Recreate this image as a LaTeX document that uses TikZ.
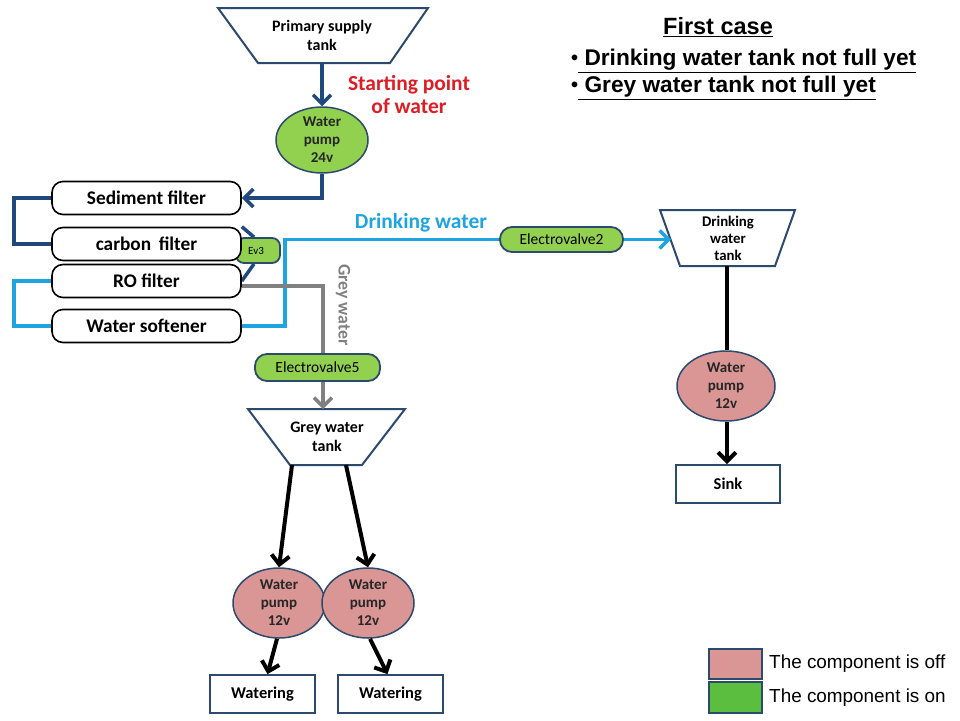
\documentclass[tikz,border=0pt]{standalone}
\usepackage{fontspec}
\setmainfont{Carlito}
\newfontfamily\arialf{Liberation Sans}
\usetikzlibrary{arrows.meta,shapes.geometric}
\pgfdeclarelayer{bg}
\pgfsetlayers{bg,main}
\definecolor{dkblue}{RGB}{31,73,125}
\definecolor{ltblue}{RGB}{30,165,225}
\definecolor{greyc}{RGB}{128,128,128}
\definecolor{outl}{RGB}{44,74,110}
\definecolor{grn}{RGB}{146,208,80}
\definecolor{pinkc}{RGB}{217,150,148}
\definecolor{leggrn}{RGB}{92,190,62}
\definecolor{redc}{RGB}{222,30,36}
\tikzset{
  tanktext/.style={font=\bfseries\fontsize{16}{19}\selectfont, align=center, inner sep=0pt},
  pump/.style={ellipse, draw=outl, line width=1.5pt, inner sep=-7pt, align=center,
    font=\bfseries\fontsize{15}{18}\selectfont, text=black!85},
  filt/.style={rectangle, rounded corners=11pt, draw=black, line width=1.6pt, fill=white,
    minimum width=189pt, minimum height=33pt, font=\bfseries\fontsize{19.3}{22}\selectfont},
  valve/.style={rectangle, rounded corners=12pt, draw=outl, line width=1.8pt, fill=grn,
    minimum height=25pt, inner sep=0pt, font=\fontsize{15.5}{17}\selectfont},
  endbox/.style={rectangle, draw=outl, line width=1.8pt, fill=white, minimum width=105pt,
    minimum height=38pt, font=\bfseries\fontsize{16.5}{19}\selectfont},
  tankshape/.style={draw=outl, line width=2pt, fill=white, line join=miter},
  dkpipe/.style={draw=dkblue, line width=3.5pt},
  ltpipe/.style={draw=ltblue, line width=3.5pt},
  grpipe/.style={draw=greyc, line width=3.5pt},
  blkpipe/.style={draw=black, line width=4pt},
  flowtip/.style={-{Straight Barb[length=9pt,width=18pt]}},
  legbox/.style={rectangle, draw=outl, line width=2pt, minimum width=53pt, minimum height=30pt},
  legtext/.style={anchor=west, font=\arialf\fontsize{18.9}{21}\selectfont, inner sep=0pt},
  headline/.style={font=\arialf\bfseries\fontsize{22.7}{26}\selectfont, anchor=west, inner sep=0pt},
}
\newcommand{\bulletdot}{{\fontsize{20}{20}\selectfont\raisebox{1pt}{•}}}
\begin{document}
\begin{tikzpicture}[x=1pt,y=-1pt]
\useasboundingbox (0,0) rectangle (960,720);
\begin{pgfonlayer}{bg}
\fill[white] (0,0) rectangle (960,720);
\end{pgfonlayer}

% primary supply tank
\draw[tankshape] (218,8) -- (428,8) -- (390,63) -- (258,63) -- cycle;
\node[tanktext] (pst) at (322,35) {Primary supply\\tank};
\coordinate (pstb) at (322,63);

\node[pump, fill=grn, minimum width=92pt, minimum height=66pt] (pump24) at (322,140) {Water\\pump\\24v};
\node[font=\bfseries\fontsize{21.5}{23}\selectfont, text=redc, align=center] (start) at (409,95) {Starting point\\of water};

% filters
\node[filt] (sed) at (146.5,198) {Sediment filter};
\node[filt] (carb) at (146.5,244) {carbon\, filter};
\node[filt] (ro) at (146.5,281) {RO filter};
\node[filt] (soft) at (146.5,326) {Water softener};

% Ev3 (behind filters)
\begin{pgfonlayer}{bg}
\node[rectangle, rounded corners=8pt, draw=outl, line width=1.8pt, fill=grn, minimum width=44pt,
  minimum height=25pt, font=\fontsize{11}{12}\selectfont] (ev3) at (258,250.5) {\hspace*{-4pt}Ev3};
\draw[dkpipe] (carb.north east) -- ([xshift=-4pt]ev3.north);
\draw[dkpipe] (ro.east) -- ([xshift=-4pt]ev3.south);
\end{pgfonlayer}

\draw[dkpipe, flowtip] (pstb) -- (pump24.north);
\draw[dkpipe, flowtip] (pump24.south) |- (sed.east);
\draw[dkpipe] (sed.west) -- ++(-37,0) |- (carb.west);
\draw[ltpipe] (ro.west) -- ++(-37,0) |- (soft.west);

% drinking water line
\node[valve, minimum width=123pt] (ev2) at (561.5,239.5) {Electrovalve2};
\coordinate (dwbend) at (285,239.5);
\draw[ltpipe, line join=miter] (soft.east) -| (dwbend) -- (ev2.west);
\node[font=\bfseries\fontsize{21.5}{23}\selectfont, text=ltblue] (dwlabel) at (421,223) {Drinking water};

% drinking water tank
\draw[tankshape] (660,210) -- (795,210) -- (775,266) -- (680,266) -- cycle;
\node[tanktext, font=\bfseries\fontsize{14.8}{17}\selectfont] (dwt) at (728,238) {Drinking\\water\\tank};
\coordinate (dwtl) at (671,239.5);
\coordinate (dwtb) at (727,266);
\draw[ltpipe, flowtip] (ev2.east) -- (dwtl);

\node[pump, fill=pinkc, minimum width=98pt, minimum height=70pt] (pumpd) at (726,386) {Water\\pump\\12v};
\node[endbox, minimum width=104pt] (sink) at (728,484) {Sink};
\draw[blkpipe] (dwtb) -- (pumpd.north -| dwtb);
\draw[blkpipe, flowtip] (pumpd.south -| dwtb) -- (sink.north -| dwtb);

% grey water line
\node[valve, minimum width=125pt, minimum height=27pt] (ev5) at (317.5,367.5) {Electrovalve5};
\draw[grpipe, line join=miter] ([yshift=-5pt]ro.east) -| ([xshift=5.5pt]ev5.north);
\node[font=\bfseries\fontsize{17.8}{19}\selectfont, text=greyc, rotate=-90] (gwlabel) at (343,305) {Grey water};

\draw[tankshape] (248,409) -- (405,409) -- (362,465) -- (290,465) -- cycle;
\node[tanktext] (gwt) at (327,437) {Grey water\\tank};
\coordinate (gwtt) at (323,409);
\coordinate (gwtbl) at (292,465);
\coordinate (gwtbr) at (346,465);
\draw[grpipe, flowtip] ([xshift=5.5pt]ev5.south) -- (gwtt);

\node[pump, fill=pinkc, minimum width=92pt, minimum height=70pt] (pumpl) at (279,603) {Water\\pump\\12v};
\node[pump, fill=pinkc, minimum width=92pt, minimum height=70pt] (pumpr) at (368,603) {Water\\pump\\12v};
\draw[blkpipe, flowtip] (gwtbl) -- (pumpl.north);
\draw[blkpipe, flowtip] (gwtbr) -- (pumpr.north);

\node[endbox] (wl) at (262.5,694) {Watering};
\node[endbox] (wr) at (390.5,694) {Watering};
\draw[blkpipe, flowtip] ([xshift=-2pt]pumpl.south) -- ([xshift=5pt]wl.north);
\draw[blkpipe, flowtip] ([xshift=2pt]pumpr.south) -- ([xshift=-3pt]wr.north);

% title
\node[font=\arialf\bfseries\fontsize{23.5}{26}\selectfont, inner sep=0pt] (title) at (718,27) {\underline{First case}};
\node[headline] (b1) at (571,61) {\bulletdot\underline{ Drinking water tank not full yet}};
\node[headline] (b2) at (571,88) {\bulletdot\underline{ Grey water tank not full yet}};

% legend
\node[legbox, fill=pinkc] (lgoff) at (735.5,664) {};
\node[legbox, fill=leggrn, minimum height=31pt] (lgon) at (735.5,697.5) {};
\node[legtext] (lgofft) at (769,664) {The component is off};
\node[legtext] (lgont) at (769,698) {The component is on};
\end{tikzpicture}
\end{document}
